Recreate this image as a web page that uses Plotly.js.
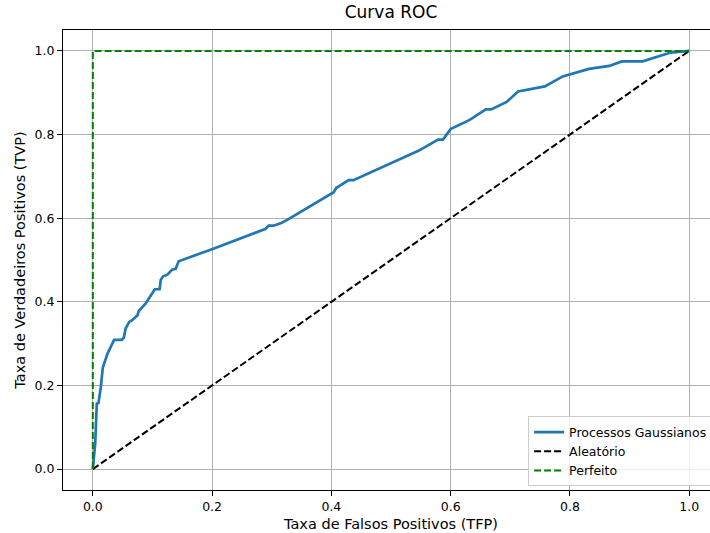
<!DOCTYPE html>
<html>
<head>
<meta charset="utf-8">
<script src="https://cdn.plot.ly/plotly-3.0.1.min.js"></script>
<style>html,body{margin:0;padding:0;overflow:hidden;background:#fff}</style>
</head>
<body>
<div id="chart" style="width:720px;height:533px"></div>
<script>
// ROC curve
const fprGP = [0, 0.004, 0.0067, 0.0095, 0.0134, 0.0167, 0.0245, 0.0357, 0.0485, 0.052, 0.055, 0.061, 0.066, 0.075, 0.077, 0.089, 0.104, 0.112, 0.114, 0.118, 0.125, 0.133, 0.139, 0.144, 0.202, 0.289, 0.295, 0.303, 0.317, 0.326, 0.404, 0.408, 0.429, 0.437, 0.546, 0.579, 0.587, 0.600, 0.632, 0.659, 0.668, 0.694, 0.713, 0.758, 0.788, 0.832, 0.866, 0.887, 0.922, 0.955, 0.969, 1.0];
const tprGP = [0, 0.061, 0.157, 0.158, 0.196, 0.242, 0.276, 0.309, 0.309, 0.314, 0.336, 0.352, 0.356, 0.368, 0.378, 0.397, 0.430, 0.430, 0.453, 0.461, 0.465, 0.477, 0.479, 0.497, 0.527, 0.574, 0.582, 0.582, 0.589, 0.596, 0.662, 0.672, 0.691, 0.691, 0.761, 0.788, 0.788, 0.813, 0.835, 0.860, 0.860, 0.878, 0.903, 0.915, 0.939, 0.957, 0.964, 0.975, 0.975, 0.990, 0.996, 1.0];
const randX = [0, 1];
const randY = [0, 1];
const perfX = [0, 0, 1];
const perfY = [0, 1, 1];
const xTicks = [0, 0.2, 0.4, 0.6, 0.8, 1.0];
const yTicks = [0, 0.2, 0.4, 0.6, 0.8, 1.0];
const tickText = ['0.0', '0.2', '0.4', '0.6', '0.8', '1.0'];

const traces = [
  {x: fprGP, y: tprGP, mode: 'lines', name: 'Processos Gaussianos',
   line: {color: '#1f77b4', width: 2.7}},
  {x: randX, y: randY, mode: 'lines', name: 'Aleatório',
   line: {color: 'black', width: 2, dash: '7px,3px'}},
  {x: perfX, y: perfY, mode: 'lines', name: 'Perfeito',
   line: {color: 'green', width: 2, dash: '7px,3px'}}
];

const axisCommon = {
  showline: true, mirror: true, linecolor: 'black', linewidth: 1,
  ticks: 'outside', ticklen: 5, tickwidth: 1, tickcolor: 'black',
  showgrid: true, gridcolor: '#b0b0b0', gridwidth: 1,
  zeroline: false, tickfont: {family: 'DejaVu Sans', size: 12.5, color: 'black'}
};

const layout = {
  width: 720, height: 533,
  margin: {l: 63, r: 1, t: 30, b: 43},
  paper_bgcolor: 'white', plot_bgcolor: 'white',
  font: {family: 'DejaVu Sans', color: 'black'},
  title: {text: 'Curva ROC', x: 0.5, xref: 'paper', xanchor: 'center',
          y: 1, yref: 'container', yanchor: 'top', pad: {t: 6},
          font: {family: 'DejaVu Sans', size: 17, color: 'black'}},
  xaxis: Object.assign({}, axisCommon, {
    range: [-0.05, 1.05], tickvals: xTicks, ticktext: tickText,
    title: {text: 'Taxa de Falsos Positivos (TFP)', standoff: 5,
            font: {family: 'DejaVu Sans', size: 14.5, color: 'black'}}
  }),
  yaxis: Object.assign({}, axisCommon, {
    range: [-0.05, 1.05], tickvals: yTicks, ticktext: tickText,
    title: {text: 'Taxa de Verdadeiros Positivos (TVP)', standoff: 5,
            font: {family: 'DejaVu Sans', size: 14.5, color: 'black'}}
  }),
  showlegend: true,
  legend: {x: 0.709, y: 0.16, xanchor: 'left', yanchor: 'top',
           bgcolor: 'rgba(255,255,255,0.8)', bordercolor: '#cccccc', borderwidth: 1,
           font: {family: 'DejaVu Sans', size: 12.5, color: 'black'},
           tracegroupgap: 0, itemwidth: 30}
};

Plotly.newPlot('chart', traces, layout, {displayModeBar: false, staticPlot: true});
</script>
</body>
</html>
